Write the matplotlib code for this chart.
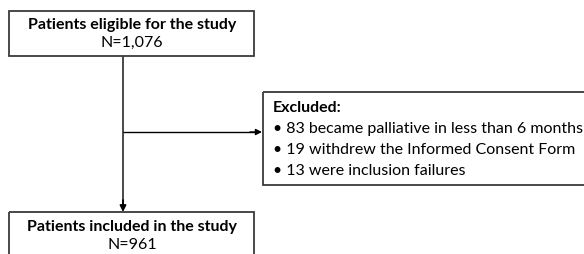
import matplotlib.pyplot as plt
from matplotlib.patches import Rectangle

plt.rcParams['font.family'] = ['Lato', 'DejaVu Sans']

# flow chart content
top_title = "Patients eligible for the study"
top_count = "N=1,076"
bottom_title = "Patients included in the study"
bottom_count = "N=961"
excluded_header = "Excluded:"
excluded_counts = [83, 19, 13]
excluded_reasons = [
    "became palliative in less than 6 months",
    "withdrew the Informed Consent Form",
    "were inclusion failures",
]

W, H = 584, 254
fig = plt.figure(figsize=(W / 100, H / 100), dpi=100)
ax = fig.add_axes([0, 0, 1, 1])
ax.set_xlim(0, W)
ax.set_ylim(H, 0)
ax.axis('off')

edge = '#3a3a3a'
lw = 1.3
fs = 11.5

# top box
ax.add_patch(Rectangle((9, 11), 245, 45, fill=False, ec=edge, lw=lw))
ax.text(132, 25, top_title, ha='center', va='center', fontsize=fs, fontweight='bold')
ax.text(132, 43, top_count, ha='center', va='center', fontsize=fs)

# bottom box (runs off the bottom edge)
ax.add_patch(Rectangle((9, 212), 245, 60, fill=False, ec=edge, lw=lw))
ax.text(132, 227, bottom_title, ha='center', va='center', fontsize=fs, fontweight='bold')
ax.text(132, 245, bottom_count, ha='center', va='center', fontsize=fs)

# excluded box (runs off the right edge)
ax.add_patch(Rectangle((263, 92), 340, 93, fill=False, ec=edge, lw=lw))
ax.text(273, 108, excluded_header, ha='left', va='center', fontsize=fs, fontweight='bold')
for i, (n, reason) in enumerate(zip(excluded_counts, excluded_reasons)):
    ax.text(273, 129 + i * 21, f"\u2022 {n} {reason}", ha='left', va='center', fontsize=fs)

# connectors
ax.plot([123, 123], [56, 205], color=edge, lw=lw, solid_capstyle='butt')
ax.annotate('', xy=(123, 212), xytext=(123, 200),
            arrowprops=dict(arrowstyle='-|>', color='black', lw=lw,
                            mutation_scale=9, shrinkA=0, shrinkB=0))
ax.plot([123, 256], [132, 132], color='black', lw=1.0, solid_capstyle='butt')
ax.annotate('', xy=(262, 132), xytext=(250, 132),
            arrowprops=dict(arrowstyle='-|>', color='black', lw=1.0,
                            mutation_scale=9, shrinkA=0, shrinkB=0))

fig.savefig('out.png', dpi=100)
